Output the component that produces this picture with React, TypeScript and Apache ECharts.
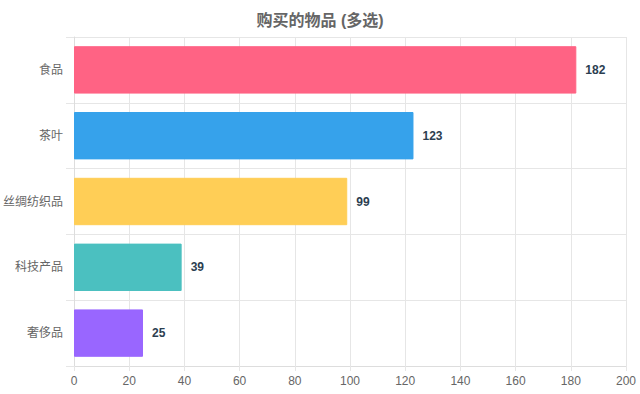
import React, { useEffect, useRef } from "react";
import * as echarts from "echarts";

const categories = ["食品", "茶叶", "丝绸纺织品", "科技产品", "奢侈品"];
const values = [182, 123, 99, 39, 25];
const colors = ["#FF6384", "#36A2EB", "#FFCE56", "#4BC0C0", "#9966FF"];
const borderColors = ["#FF6384", "#36A2EB", "#FFCE56", "#4BC0C0", "#9966FF"];
const titleText = "购买的物品 (多选)";

export default function App() {
  const ref = useRef<HTMLDivElement>(null);
  useEffect(() => {
    if (!ref.current) return;
    const chart = echarts.init(ref.current, null, { renderer: "svg" });
    const font = "'Helvetica Neue', Helvetica, Arial, 'Liberation Sans', 'Noto Sans CJK SC', sans-serif";
    chart.setOption({
      animation: false,
      textStyle: { fontFamily: font },
      title: {
        text: titleText,
        left: "center",
        top: 7,
        textStyle: { fontSize: 16, fontWeight: "bold", color: "#666", fontFamily: font },
      },
      grid: { left: 73, right: 14, top: 37, bottom: 28, containLabel: false },
      xAxis: {
        type: "value",
        min: 0,
        max: 200,
        interval: 20,
        axisLine: { show: true, lineStyle: { color: "#ddd" } },
        axisTick: { show: true, length: 5, lineStyle: { color: "#e6e6e6" } },
        axisLabel: { color: "#666", fontSize: 12, margin: 9 },
        splitLine: { show: true, lineStyle: { color: "#e6e6e6" } },
      },
      yAxis: {
        type: "category",
        data: categories,
        inverse: true,
        axisLine: { show: true, lineStyle: { color: "#ddd" } },
        axisTick: { show: true, length: 8, lineStyle: { color: "#e6e6e6" } },
        axisLabel: { color: "#666", fontSize: 12, margin: 11 },
        splitLine: { show: true, lineStyle: { color: "#e6e6e6" } },
      },
      series: [
        {
          type: "bar",
          barWidth: "72%",
          data: values.map((v, i) => ({
            value: v,
            itemStyle: {
              color: colors[i],
              borderColor: borderColors[i],
              borderWidth: 1,
              opacity: 1,
            },
          })),
          label: {
            show: true,
            position: "right",
            distance: 9,
            fontWeight: "bold",
            fontSize: 12,
            color: "#2c3e50",
          },
        },
      ],
    });
    return () => chart.dispose();
  }, []);
  return <div ref={ref} style={{ width: 640, height: 394, position: "absolute", left: 0, top: 0 }} />;
}
